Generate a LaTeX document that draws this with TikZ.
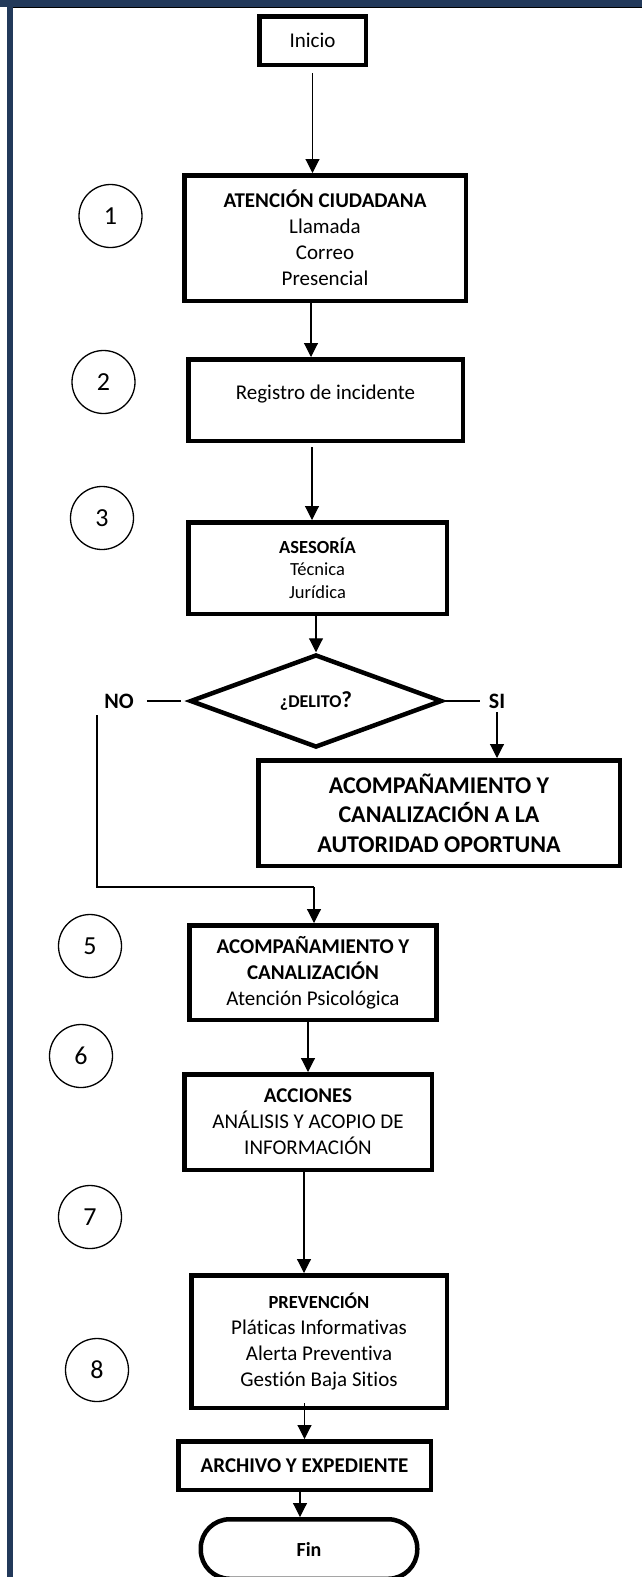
\documentclass[tikz,border=0pt]{standalone}
\usepackage{fontspec}
\setmainfont{Carlito}[Ligatures=NoCommon]
\usepackage{tikz}
\usetikzlibrary{arrows.meta,shapes.geometric}
\definecolor{framenavy}{HTML}{22395A}
\tikzset{
  stepbox/.style   = {draw,line width=4.5pt,align=center,inner sep=0pt,font=\fontsize{21}{26}\selectfont},
  numcirc/.style   = {draw,circle,line width=1.3pt,minimum size=63pt,inner sep=0pt,font=\fontsize{26}{30}\selectfont},
  flowarr/.style   = {-{Triangle[length=14pt,width=14pt]},line width=1.1pt},
  plainline/.style = {line width=1.1pt}
}
\newcommand{\stepnum}[3]{%
  \node[numcirc] (#1) at (#2) {#3};
}

\begin{document}
\begin{tikzpicture}[x=1pt,y=-1pt]
  \useasboundingbox (0,0) rectangle (642,1577);
  % page frame
  \fill[framenavy] (0,0) rectangle (642,7);
  \fill[framenavy] (7,0) rectangle (13,1577);
  \draw[line width=1.2pt] (13,7.6) -- (642,7.6);

  % boxes
  \node[stepbox,minimum width=106.5pt,minimum height=48.5pt] (inicio) at (312.5,40.5) {Inicio};
  \node[stepbox,minimum width=281.5pt,minimum height=125.5pt] (atencion) at (325,238)
    {\bfseries ATENCIÓN CIUDADANA\\Llamada\\Correo\\Presencial};
  \node[stepbox,minimum width=274.5pt,minimum height=81.5pt] (registro) at (325.5,400)
    {\raisebox{16pt}{Registro de incidente}};
  \node[stepbox,minimum width=258.5pt,minimum height=91.5pt,font=\fontsize{18.5}{22.5}\selectfont] (asesoria) at (317.5,568)
    {\bfseries ASESORÍA\\Técnica\\Jurídica};
  \node[draw,diamond,line width=4.5pt,line join=miter,minimum width=252pt,minimum height=93pt,inner sep=0pt,
        font=\bfseries] (delito) at (316,701)
    {\raisebox{-5pt}{\fontsize{18}{20}\selectfont ¿DELITO\fontsize{23}{25}\selectfont ?}};
  \node[font=\fontsize{22}{24}\selectfont\bfseries,inner sep=0pt] (no) at (119,701) {NO};
  \node[font=\fontsize{22}{24}\selectfont\bfseries,inner sep=0pt] (si) at (497,701) {SI};
  \node[stepbox,minimum width=361.5pt,minimum height=105.5pt,font=\fontsize{24}{29.5}\selectfont\bfseries] (canal) at (439,813)
    {ACOMPAÑAMIENTO Y\\CANALIZACIÓN A LA\\AUTORIDAD OPORTUNA};
  \node[stepbox,minimum width=247pt,minimum height=94.5pt] (acomp) at (313,972.5)
    {\bfseries ACOMPAÑAMIENTO Y\\\bfseries CANALIZACIÓN\\Atención Psicológica};
  \node[stepbox,minimum width=247.5pt,minimum height=95.5pt] (acciones) at (308,1122)
    {\bfseries ACCIONES\\ANÁLISIS Y ACOPIO DE\\INFORMACIÓN};
  \node[stepbox,minimum width=255.5pt,minimum height=132.5pt] (prevencion) at (319,1341.5)
    {{\fontsize{18.5}{22}\selectfont\bfseries PREVENCIÓN}\\Pláticas Informativas\\Alerta Preventiva\\Gestión Baja Sitios};
  \node[stepbox,minimum width=252.5pt,minimum height=48.5pt,font=\fontsize{21}{26}\selectfont\bfseries] (archivo) at (304.5,1465.5)
    {ARCHIVO Y EXPEDIENTE};
  \node[stepbox,rounded corners=29pt,minimum width=216.5pt,minimum height=59.5pt,font=\fontsize{20}{24}\selectfont\bfseries] (fin) at (309,1549)
    {\raisebox{-4pt}{Fin}};

  % step numbers
  \stepnum{n1}{110.5,216}{1}
  \stepnum{n2}{103.5,382}{2}
  \stepnum{n3}{102,518}{3}
  \stepnum{n5}{90,946}{5}
  \stepnum{n6}{81,1056}{6}
  \stepnum{n7}{90,1217}{7}
  \stepnum{n8}{97,1370}{8}

  % connectors
  \draw[flowarr,shorten <=6pt] (inicio.south) -- (inicio.south |- atencion.north);
  \draw[flowarr] ([xshift=-14pt]atencion.south) -- ([xshift=-14pt]atencion.south |- registro.north);
  \draw[flowarr,shorten <=4pt] ([xshift=-13.5pt]registro.south) -- ([xshift=-13.5pt]registro.south |- asesoria.north);
  \draw[flowarr] (asesoria.south -| delito.north) -- (delito.north);
  \draw[plainline,shorten <=13pt,shorten >=7pt] (no.east) -- (delito.west);
  \draw[plainline,shorten >=9pt] (delito.east) -- (si.west);
  \draw[flowarr,shorten <=4pt] (si.south) -- (si.south |- canal.north);
  \coordinate (nojoin) at (314,887);
  \draw[plainline] ([xshift=-22pt,yshift=-7pt]no.south) |- (nojoin);
  \draw[flowarr] (nojoin) -- (nojoin |- acomp.north);
  \draw[flowarr] (acomp.south -| acciones.north) -- (acciones.north);
  \draw[flowarr] ([xshift=-4pt]acciones.south) -- ([xshift=-4pt]acciones.south |- prevencion.north);
  \draw[flowarr,shorten <=-7pt] (prevencion.south -| archivo.north) -- (archivo.north);
  \draw[flowarr,shorten <=-4pt] ([xshift=-4.5pt]archivo.south) -- ([xshift=-4.5pt]archivo.south |- fin.north);
\end{tikzpicture}
\end{document}
